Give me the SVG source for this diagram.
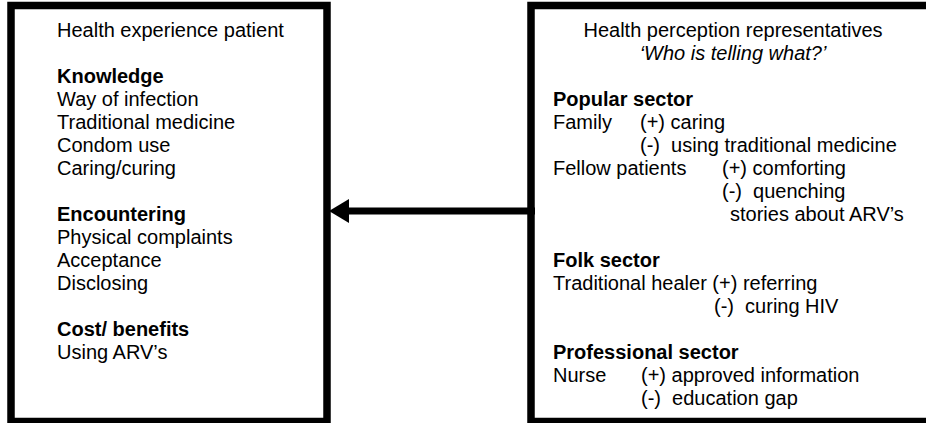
<svg xmlns="http://www.w3.org/2000/svg" width="926" height="423" viewBox="0 0 926 423">
<style>
.box{fill:#fff;stroke:#000;stroke-width:7.5}
text{font-family:"Liberation Sans",Arial,sans-serif;font-size:20px;fill:#000}
.b{font-weight:bold}
.i{font-style:italic}
.c{text-anchor:middle}
</style>
<defs>
<marker id="ah" viewBox="0 0 20 24" refX="0" refY="12" markerWidth="20" markerHeight="24" markerUnits="userSpaceOnUse" orient="auto-start-reverse">
<path d="M0,0 L20,12 L0,24 Z" fill="#000"/>
</marker>
</defs>
<g id="patient">
<rect class="box" x="11" y="5.5" width="316" height="416"/>
<text x="57" y="37">Health experience patient</text>
<text x="57" y="83" class="b">Knowledge</text>
<text x="57" y="106">Way of infection</text>
<text x="57" y="129">Traditional medicine</text>
<text x="57" y="152">Condom use</text>
<text x="57" y="175">Caring/curing</text>
<text x="57" y="221" class="b">Encountering</text>
<text x="57" y="244">Physical complaints</text>
<text x="57" y="267">Acceptance</text>
<text x="57" y="290">Disclosing</text>
<text x="57" y="336" class="b">Cost/ benefits</text>
<text x="57" y="359">Using ARV’s</text>
</g>
<g id="representatives">
<rect class="box" x="531" y="5.5" width="410" height="416"/>
<text x="733" y="37" class="c">Health perception representatives</text>
<text x="733" y="60" class="c i">‘Who is telling what?’</text>
<text x="553" y="106" class="b">Popular sector</text>
<text x="553" y="129">Family</text>
<text x="640" y="129">(+) caring</text>
<text x="640" y="152" xml:space="preserve">(-)  using traditional medicine</text>
<text x="553" y="175">Fellow patients</text>
<text x="722" y="175">(+) comforting</text>
<text x="722" y="198" xml:space="preserve">(-)  quenching</text>
<text x="730" y="221">stories about ARV’s</text>
<text x="553" y="267" class="b">Folk sector</text>
<text x="553" y="290">Traditional healer (+) referring</text>
<text x="714" y="313" xml:space="preserve">(-)  curing HIV</text>
<text x="553" y="359" class="b">Professional sector</text>
<text x="553" y="382">Nurse</text>
<text x="641" y="382">(+) approved information</text>
<text x="641" y="405" xml:space="preserve">(-)  education gap</text>
</g>
<g id="connectors">
<line x1="535" y1="211" x2="349" y2="211" stroke="#000" stroke-width="7" marker-end="url(#ah)"/>
</g>
</svg>
